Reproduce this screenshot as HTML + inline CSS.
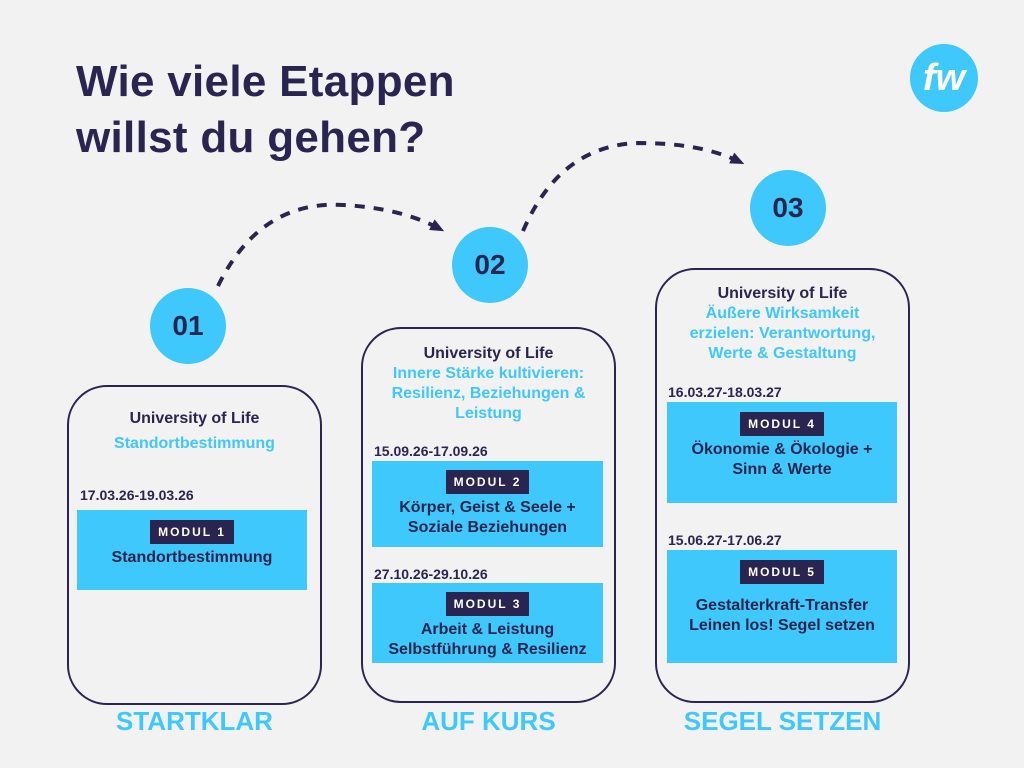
<!DOCTYPE html>
<html><head><meta charset="utf-8"><style>
*{margin:0;padding:0;box-sizing:border-box}
body{width:1024px;height:768px;background:#f3f2f2;position:relative;overflow:hidden;font-family:"Liberation Sans","DejaVu Sans",sans-serif;color:#2a2550}
.a{position:absolute}
.box{position:absolute;border:2px solid #2a2550;border-radius:40px}
.circ{position:absolute;border-radius:50%;background:#3ec8fb;color:#2a2550;font-weight:bold;font-size:28px;display:flex;align-items:center;justify-content:center}
.t{position:absolute;text-align:center;font-weight:bold;font-size:16px;line-height:20px}
.cy{color:#3ec8fb}
.mod{position:absolute;background:#3ec8fb;text-align:center;font-weight:bold;font-size:16px;line-height:20px;color:#2a2550}
.tag{display:inline-block;background:#2a2550;color:#fff;font-size:12px;letter-spacing:2px;padding:5px 8px;line-height:14px;margin-bottom:4px}
.date{position:absolute;font-weight:bold;font-size:14px}
.lab{position:absolute;font-weight:bold;font-size:26px;color:#3ec8fb;text-align:center}
</style></head><body>
<div class="a" style="left:76px;top:54px;font-size:44px;font-weight:bold;line-height:56px;letter-spacing:0.3px">Wie viele Etappen<br>willst du gehen?</div>
<div class="circ" style="left:910px;top:44px;width:68px;height:68px;color:#fff;font-style:italic;font-size:38px">fw</div>

<svg class="a" style="left:0;top:0" width="1024" height="768">
<defs><marker id="ar" markerUnits="userSpaceOnUse" markerWidth="14" markerHeight="14" refX="7" refY="7" orient="auto"><path d="M0,1 L14,7 L0,13 Z" fill="#2a2550"/></marker></defs>
<path d="M218,286 Q260,200 343,205 Q400,208 438,228" fill="none" stroke="#2a2550" stroke-width="4" stroke-dasharray="10,9" marker-end="url(#ar)"/>
<path d="M523,231 Q560,145 639,143 Q700,143 738,161" fill="none" stroke="#2a2550" stroke-width="4" stroke-dasharray="10,9" marker-end="url(#ar)"/>
</svg>

<div class="circ" style="left:150px;top:288px;width:76px;height:76px">01</div>
<div class="circ" style="left:452px;top:227px;width:76px;height:76px">02</div>
<div class="circ" style="left:750px;top:170px;width:76px;height:76px">03</div>

<div class="box" style="left:67px;top:385px;width:255px;height:320px"></div>
<div class="t" style="left:67px;top:409px;width:255px">University of Life<br><span class="cy" style="line-height:30px">Standortbestimmung</span></div>
<div class="date" style="left:80px;top:487px">17.03.26-19.03.26</div>
<div class="mod" style="left:77px;top:510px;width:230px;height:80px;padding-top:10px"><span class="tag">MODUL 1</span><br>Standortbestimmung</div>

<div class="box" style="left:361px;top:327px;width:255px;height:376px"></div>
<div class="t" style="left:361px;top:344px;width:255px">University of Life<br><span class="cy">Innere Stärke kultivieren:<br>Resilienz, Beziehungen &amp;<br>Leistung</span></div>
<div class="date" style="left:374px;top:443px">15.09.26-17.09.26</div>
<div class="mod" style="left:372px;top:461px;width:231px;height:86px;padding-top:9px"><span class="tag">MODUL 2</span><br>Körper, Geist &amp; Seele +<br>Soziale Beziehungen</div>
<div class="date" style="left:374px;top:566px">27.10.26-29.10.26</div>
<div class="mod" style="left:372px;top:583px;width:231px;height:80px;padding-top:9px"><span class="tag">MODUL 3</span><br>Arbeit &amp; Leistung<br>Selbstführung &amp; Resilienz</div>

<div class="box" style="left:655px;top:268px;width:255px;height:435px"></div>
<div class="t" style="left:655px;top:284px;width:255px">University of Life<br><span class="cy">Äußere Wirksamkeit<br>erzielen: Verantwortung,<br>Werte &amp; Gestaltung</span></div>
<div class="date" style="left:668px;top:384px">16.03.27-18.03.27</div>
<div class="mod" style="left:667px;top:402px;width:230px;height:101px;padding-top:10px"><span class="tag">MODUL 4</span><br>Ökonomie &amp; Ökologie +<br>Sinn &amp; Werte</div>
<div class="date" style="left:668px;top:532px">15.06.27-17.06.27</div>
<div class="mod" style="left:667px;top:550px;width:230px;height:113px;padding-top:10px"><span class="tag">MODUL 5</span><br><span style="display:inline-block;margin-top:8px">Gestalterkraft-Transfer<br>Leinen los! Segel setzen</span></div>

<div class="lab" style="left:67px;top:706px;width:255px">STARTKLAR</div>
<div class="lab" style="left:361px;top:706px;width:255px">AUF KURS</div>
<div class="lab" style="left:655px;top:706px;width:255px">SEGEL SETZEN</div>
</body></html>
